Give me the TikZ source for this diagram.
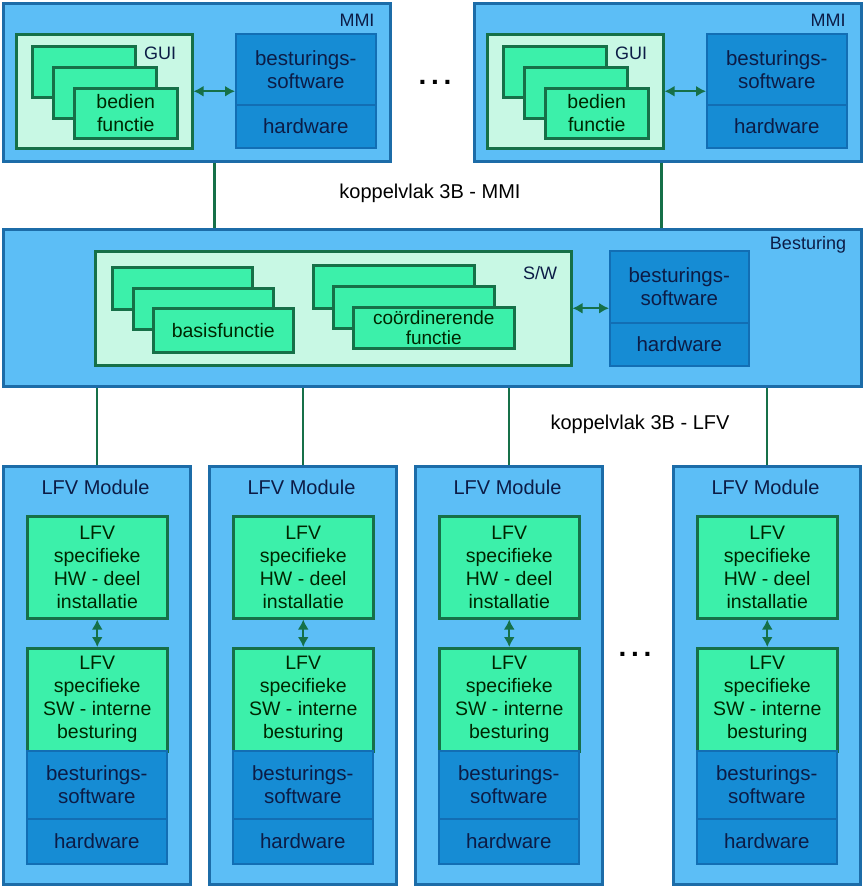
\documentclass[tikz,border=0pt]{standalone}
\usepackage{fontspec}
\setmainfont{Liberation Sans}
\usetikzlibrary{arrows.meta}

\definecolor{outblue}{RGB}{92,190,246}
\definecolor{outline}{RGB}{28,108,168}
\definecolor{ctlblue}{RGB}{22,140,212}
\definecolor{ctlline}{RGB}{18,110,180}
\definecolor{mint}{RGB}{60,240,170}
\definecolor{palemint}{RGB}{200,248,228}
\definecolor{leafgreen}{RGB}{22,112,72}
\definecolor{inktext}{RGB}{12,28,70}

\tikzset{
	base/.style={anchor=north west,inner sep=0pt,align=center,font=\fontsize{20.5}{23}\selectfont},
	cont/.style={base,draw=outline,fill=outblue,line width=2.5pt},
	swarea/.style={base,draw=leafgreen,fill=palemint,line width=2.5pt},
	fn/.style={base,draw=leafgreen,fill=mint,line width=2.5pt,text=black!85!green,font=\fontsize{19.5}{23}\selectfont},
	ctl/.style={base,draw=ctlline,fill=ctlblue,line width=1.5pt,text=inktext},
	tag/.style={inner sep=0pt,font=\fontsize{18}{20}\selectfont,text=inktext},
	caption/.style={inner sep=0pt,font=\fontsize{20}{23}\selectfont},
	link/.style={draw=leafgreen,line width=2.5pt},
	biarrow/.style={draw=leafgreen,line width=2pt,{Latex[length=10pt,width=11pt]}-{Latex[length=10pt,width=11pt]}},
	dots/.style={inner sep=0pt,font=\fontsize{28}{30}\bfseries}
}

\begin{document}
\begin{tikzpicture}[x=1pt,y=-1pt]
\useasboundingbox (0,0) rectangle (862,886);

% MMI blocks
\foreach \i/\dx in {1/0,2/471}{
	\node[cont,minimum width=387pt,minimum height=158pt] (mmi\i) at (2+\dx,2) {};
	\node[tag] at (357+\dx,20) {MMI};
	\node[swarea,minimum width=176pt,minimum height=114pt] (gui\i) at (15+\dx,33) {};
	\node[tag] at (160+\dx,53) {GUI};
	\node[fn,minimum width=103pt,minimum height=51pt] at (31+\dx,45) {};
	\node[fn,minimum width=103pt,minimum height=51pt] at (52+\dx,66) {};
	\node[fn,minimum width=103pt,minimum height=50pt] (bed\i) at (73+\dx,87) {bedien\\functie};
	\node[ctl,minimum width=140pt,minimum height=71pt] (bsw\i) at (235+\dx,33) {besturings-\\software};
	\node[ctl,minimum width=140pt,minimum height=43pt] (bhw\i) at (235+\dx,104) {hardware};
	\draw[biarrow] (gui\i.east) -- (gui\i.east -| bsw\i.west);
}
\node[dots] (mmidots) at (435,82) {.\,.\,.};

% Besturing
\node[cont,minimum width=858pt,minimum height=157pt] (bes) at (2,228) {};
\node[tag] at (808,245) {Besturing};
\node[swarea,minimum width=476pt,minimum height=114pt] (sw) at (94,250) {};
\node[tag] at (540,273) {S/W};
\node[fn,minimum width=140pt,minimum height=42pt] at (111,266) {};
\node[fn,minimum width=140pt,minimum height=41pt] at (132,287) {};
\node[fn,minimum width=140pt,minimum height=44pt] (basis) at (152,307) {basisfunctie};
\node[fn,minimum width=161pt,minimum height=43pt] at (312,264) {};
\node[fn,minimum width=161pt,minimum height=42pt] at (332,285) {};
\node[fn,minimum width=161pt,minimum height=41pt,font=\fontsize{19}{20}\selectfont] (coord) at (352,306) {coördinerende\\functie};
\node[ctl,minimum width=139pt,minimum height=72pt] (besS) at (609,250) {besturings-\\software};
\node[ctl,minimum width=139pt,minimum height=43pt] (besH) at (609,322) {hardware};
\draw[biarrow] (sw.east) -- (sw.east -| besS.west);

% koppelvlakken
\draw[link] ([xshift=17.5pt]mmi1.south) -- ([xshift=17.5pt]mmi1.south |- bes.north);
\draw[link] ([xshift=-6.5pt]mmi2.south) -- ([xshift=-6.5pt]mmi2.south |- bes.north);
\node[caption] (kmmi) at (430,193) {koppelvlak 3B - MMI};

% LFV modules
\foreach \i/\mx in {1/2,2/208,3/414,4/672}{
	\node[cont,minimum width=187pt,minimum height=418pt] (lfv\i) at (\mx,465) {};
	\node[caption,text=inktext] at (\mx+93.5,487) {LFV Module};
	\node[fn,minimum width=140pt,minimum height=102pt] (hw\i) at (\mx+24,515) {LFV\\specifieke\\HW - deel\\installatie};
	\node[fn,minimum width=140pt,minimum height=103pt] (sw\i) at (\mx+24,647) {LFV\\specifieke\\SW - interne\\besturing};
	\node[ctl,minimum width=140pt,minimum height=68pt] (lbs\i) at (\mx+24,750) {besturings-\\software};
	\node[ctl,minimum width=140pt,minimum height=45pt] (lhw\i) at (\mx+24,818) {hardware};
	\draw[biarrow] (hw\i) -- (sw\i);
	\draw[link] (lfv\i.north) -- (lfv\i.north |- bes.south);
}
\node[caption] (klfv) at (640,424) {koppelvlak 3B - LFV};
\node[dots] (lfvdots) at (635,654) {.\,.\,.};
\end{tikzpicture}
\end{document}
